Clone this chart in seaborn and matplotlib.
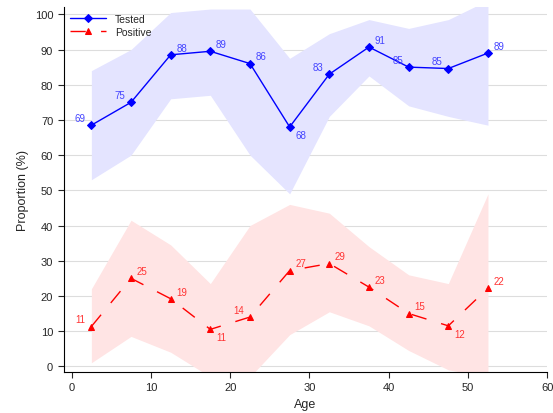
import numpy as np
import matplotlib.pyplot as plt
import seaborn as sns

age = [2.5, 7.5, 12.5, 17.5, 22.5, 27.5, 32.5, 37.5, 42.5, 47.5, 52.5]
tested = [68.5, 75, 88.5, 89.5, 86, 68, 83, 90.7, 85, 84.6, 89]
tested_lo = [53, 60, 76, 77, 60, 49, 71, 82.5, 74, 71, 68.5]
tested_hi = [84, 90, 100.5, 101.5, 101.5, 87.5, 94.5, 98.5, 96, 98.5, 104]
tested_lab = [69, 75, 88, 89, 86, 68, 83, 91, 85, 85, 89]
positive = [11.3, 25, 19.2, 10.5, 14, 27.2, 29.2, 22.5, 15, 11.5, 22.2]
positive_lo = [1, 8.5, 4, -3, -3, 9, 15.5, 11.5, 4.5, -1, -3]
positive_hi = [22, 41.5, 34.5, 23.5, 40, 46, 43.5, 34, 26, 23.5, 49]
positive_lab = [11, 25, 19, 11, 14, 27, 29, 23, 15, 12, 22]

# label offsets in points: 'l' = upper left, 'r' = upper right, 'b' = lower right
tested_pos = ["l", "l", "r", "r", "r", "b", "l", "r", "l", "l", "r"]
positive_pos = ["l", "r", "r", "b", "l", "r", "r", "r", "r", "b", "r"]
offs = {"l": (-4, 3, "right"), "r": (4, 3, "left"), "b": (4, -8, "left")}

sns.set_style("white")
plt.rcParams['font.family'] = ['Liberation Sans', 'DejaVu Sans']
fig, ax = plt.subplots(figsize=(5.53, 4.14), dpi=100)

ax.fill_between(age, tested_lo, tested_hi, color="#e4e4ff", lw=0)
ax.fill_between(age, positive_lo, positive_hi, color="#ffe4e4", lw=0)
ax.grid(axis="y", color="#dddddd", lw=0.8)
ax.set_axisbelow(True)

sns.lineplot(x=age, y=tested, ax=ax, color="blue", marker="D", markersize=4,
             markeredgecolor="blue", lw=1, label="Tested")
sns.lineplot(x=age, y=positive, ax=ax, color="red", marker="^", markersize=4.5,
             markeredgecolor="red", lw=1, dashes=(11, 11), label="Positive")

for x, y, t, p in zip(age, tested, tested_lab, tested_pos):
    dx, dy, ha = offs[p]
    ax.annotate(str(t), (x, y), xytext=(dx, dy), textcoords="offset points",
                ha=ha, fontsize=7, color="#4444ff")
for x, y, t, p in zip(age, positive, positive_lab, positive_pos):
    dx, dy, ha = offs[p]
    ax.annotate(str(t), (x, y), xytext=(dx, dy), textcoords="offset points",
                ha=ha, fontsize=7, color="#ff3333")

ax.set_xlim(-1, 60)
ax.set_ylim(-1.5, 102)
ax.set_xticks(range(0, 61, 10))
ax.set_yticks(range(0, 101, 10))
ax.set_xlabel("Age", fontsize=9)
ax.set_ylabel("Proportion (%)", fontsize=9)
ax.tick_params(axis="both", labelsize=8, length=4, left=True, bottom=True)
for s in ["top", "right"]:
    ax.spines[s].set_visible(False)
for s in ["left", "bottom"]:
    ax.spines[s].set_color("black")
ax.legend(loc="upper left", frameon=False, fontsize=7.5, handlelength=3.5,
          borderaxespad=0.2, labelspacing=0.3)

fig.subplots_adjust(left=0.115, right=0.99, top=0.98, bottom=0.1)
fig.savefig("out.png", dpi=100)
